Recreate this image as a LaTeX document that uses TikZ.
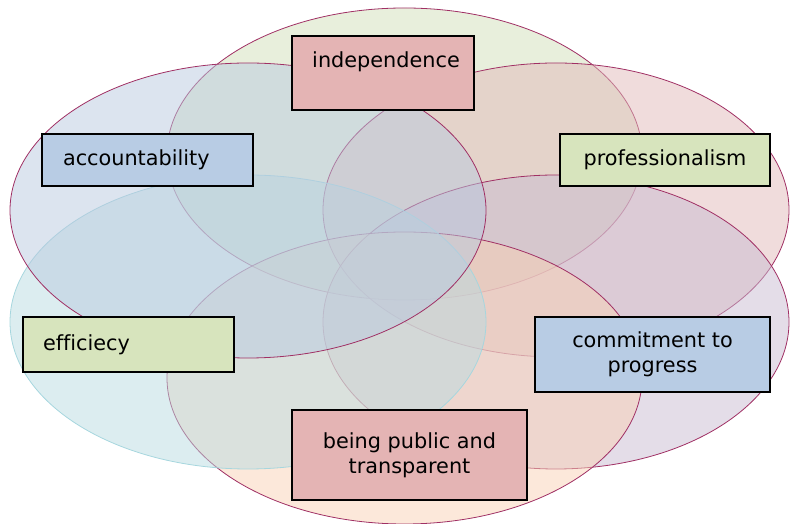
\documentclass[tikz,border=0pt]{standalone}
\usepackage{fontspec}
\setmainfont[Ligatures=NoCommon]{DejaVu Sans}
\usetikzlibrary{shapes}

\definecolor{rim}{RGB}{160,48,100}
\definecolor{rimcyan}{RGB}{166,214,222}
\definecolor{vblue}{RGB}{185,201,223}
\definecolor{vgreen}{RGB}{209,223,185}
\definecolor{vpink}{RGB}{225,185,185}
\definecolor{vpurple}{RGB}{201,187,209}
\definecolor{vorange}{RGB}{249,209,181}
\definecolor{vcyan}{RGB}{185,219,225}
\definecolor{rosebox}{RGB}{228,180,180}
\definecolor{bluebox}{RGB}{184,204,228}
\definecolor{greenbox}{RGB}{215,228,189}

\begin{document}
\begin{tikzpicture}[x=1pt,y=1pt,
  venn/.style={draw=rim, line width=.8pt, fill opacity=.5},
  box/.style={draw=black, line width=2pt, inner sep=0pt, align=center,
    font=\fontsize{20.8}{25}\selectfont}]

\useasboundingbox (0,0) rectangle (790,524);

% the six sets
\draw[venn, fill=vgreen] (404.5,370) ellipse (237.5 and 146);
\draw[venn, fill=vpink] (556,314) ellipse (233 and 147);
\draw[venn, fill=vpurple] (556,202) ellipse (233 and 147);
\draw[venn, fill=vorange] (404.5,146) ellipse (237.5 and 146);
\draw[venn, draw=rimcyan, fill=vcyan] (248,202) ellipse (238 and 147);
\draw[venn, fill=vblue] (248,313.5) ellipse (238 and 147.5);

% labels
\node[box, fill=rosebox, minimum width=182pt, text height=15pt, text depth=25pt, inner ysep=17pt, anchor=north] (indep) at (383,489) {\hspace*{6pt}independence};
\node[box, fill=bluebox, text width=169pt, inner xsep=21pt, minimum height=52pt, align=left] (account) at (147.5,364) {accountability};
\node[box, fill=greenbox, minimum width=210pt, minimum height=52pt] (prof) at (665,364) {professionalism};
\node[box, fill=greenbox, text width=171pt, inner xsep=20pt, minimum height=55pt, align=left] (effic) at (128.5,179.5) {efficiecy};
\node[box, fill=bluebox, minimum width=235pt, minimum height=75pt] (commit) at (652.5,169.5) {commitment to\\progress};
\node[box, fill=rosebox, minimum width=235pt, minimum height=90pt] (public) at (409.5,69) {being public and\\transparent};
\end{tikzpicture}
\end{document}
